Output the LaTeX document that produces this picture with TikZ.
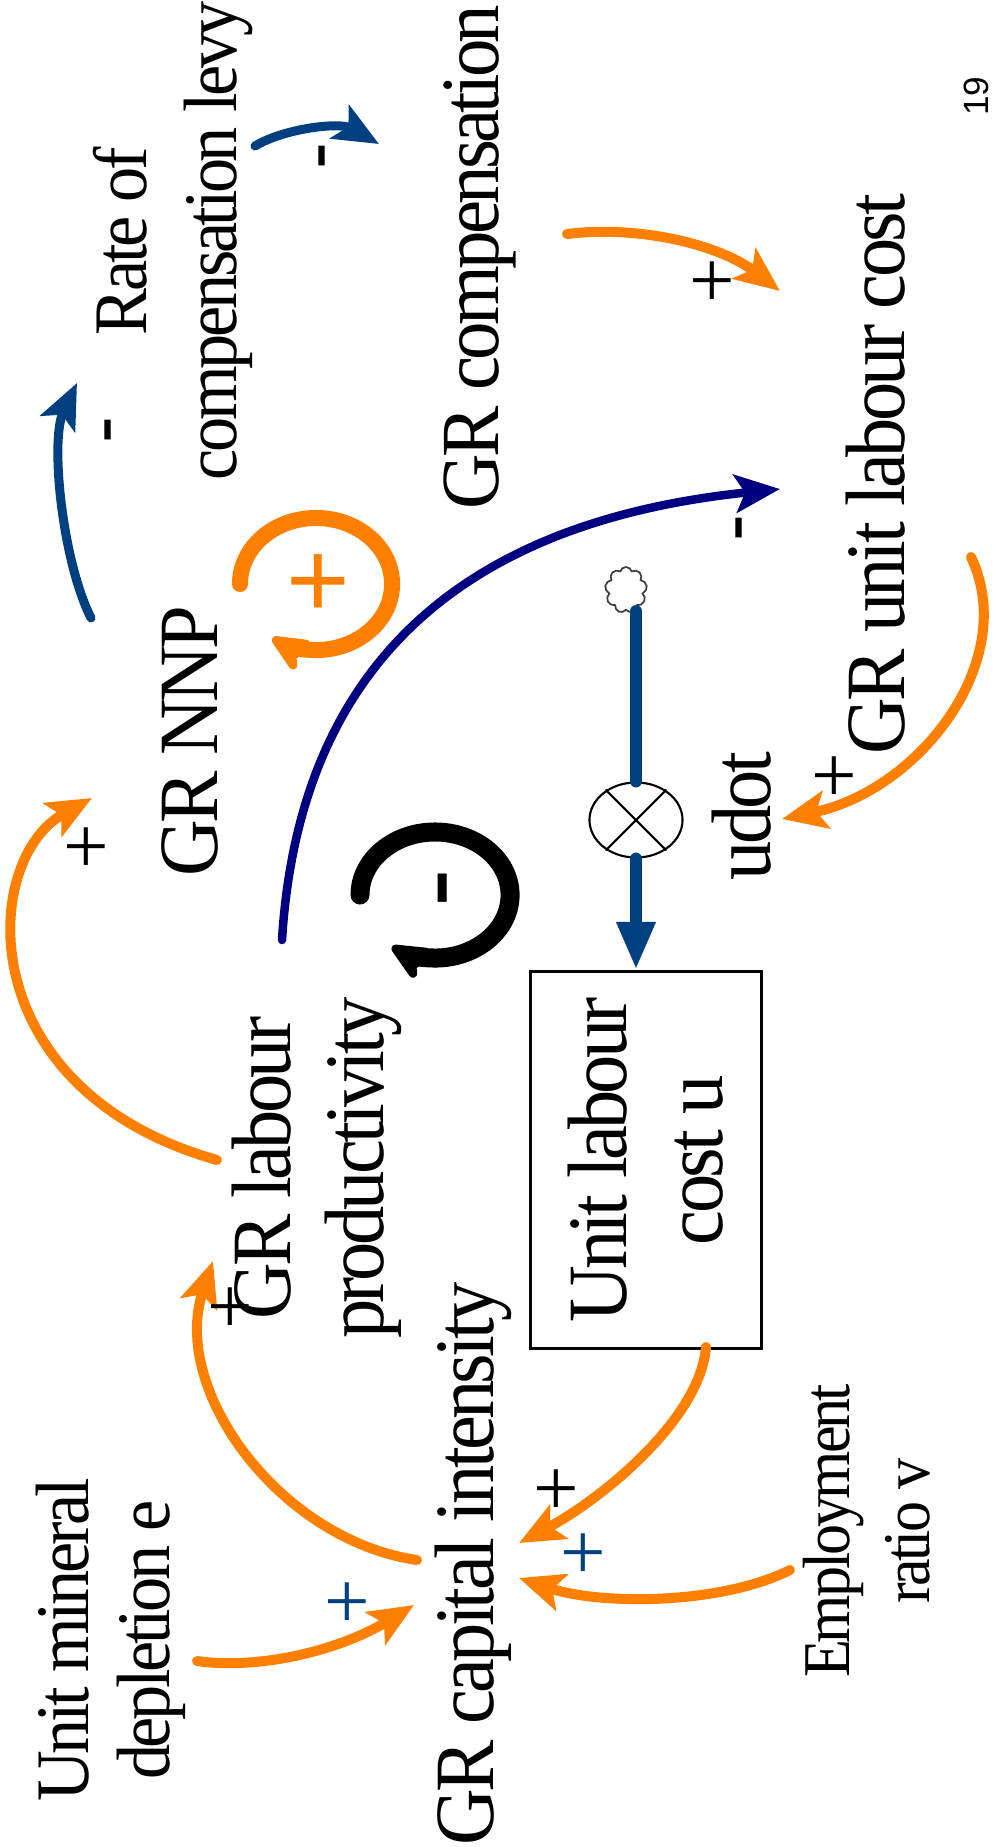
\documentclass[tikz,border=0pt]{standalone}
\usepackage{fontspec}
\setmainfont{Liberation Serif}[FakeStretch=0.93, LetterSpace=-4.5]
\newfontfamily\signfont{Liberation Sans}
\newfontfamily\plusfont{Liberation Serif}
\usetikzlibrary{arrows.meta,calc,shapes.geometric,shapes.symbols}

\definecolor{cldorange}{RGB}{255,128,0}
\definecolor{cldblue}{RGB}{0,64,128}
\definecolor{cldnavy}{RGB}{0,0,128}

\begin{document}
\begin{tikzpicture}[x=0.01cm, y=-0.01cm,
  >={Stealth[length=0.45cm, width=0.38cm, inset=0.1cm]},
  line cap=round,
  var/.style={rotate=90, align=center, inner sep=0pt},
  bigvar/.style={var, font=\fontsize{24}{26.4}\selectfont},
  midvar/.style={var, font=\fontsize{21.5}{23}\selectfont},
  smallvar/.style={var, font=\fontsize{19}{22.8}\selectfont},
  orangelink/.style={->, draw=cldorange, line width=0.1cm},
  bluelink/.style={->, draw=cldblue, line width=0.09cm},
  navylink/.style={->, draw=cldnavy, line width=0.085cm},
  plussign/.style={inner sep=0pt, font=\plusfont\fontsize{23}{23}\selectfont},
  minussign/.style={rotate=90, inner sep=0pt, font=\signfont\fontsize{23}{23}\selectfont},
  pipe/.style={draw=cldblue, line width=0.12cm}]

  \useasboundingbox (0,0) rectangle (999,1847);

  % variables (the whole sheet is turned on its side)
  \node[bigvar] (grnnp)  at (190,741)  {GR NNP};
  \node[midvar, font=\fontsize{21.5}{25.5}\selectfont] (rate) at (173,241) {Rate of\\compensation levy};
  \node[bigvar, font=\fontsize{23.5}{26}\selectfont] (grcomp) at (480,257)  {GR compensation};
  \node[bigvar] (grulc)  at (876,474)  {GR unit labour cost};
  \node[bigvar] (grlab)  at (317,1168) {GR labour\\productivity};
  \node[bigvar] (grcap)  at (473,1564) {GR capital intensity};
  \node[midvar] (unitmin) at (111,1640) {Unit mineral\\depletion e};
  \node[smallvar] (employ) at (867,1531) {Employment\\ratio v};
  \node[bigvar] (udot)   at (742,816)  {udot};

  % stock
  \node[bigvar, font=\fontsize{24}{27.3}\selectfont, draw, line width=0.8pt,
        minimum width=3.77cm, minimum height=2.31cm] (ulc) at (646,1160) {Unit labour\\cost u};

  % flow into the stock
  \node[cloud, draw=black!75, line width=0.5pt, cloud puffs=9, aspect=0.9,
        minimum width=0.42cm, minimum height=0.46cm, inner sep=0pt] (source) at (626,590) {};
  \node[ellipse, draw, line width=0.6pt, minimum width=0.93cm, minimum height=0.75cm,
        inner sep=0pt] (valve) at (636,820) {};
  \draw[line width=0.6pt] (valve.45) -- (valve.-135) (valve.135) -- (valve.-45);
  \draw[pipe] (source.south -| valve) -- (valve.north);
  \draw[pipe, -{Triangle[length=0.48cm, width=0.36cm]}] (valve.south) -- (valve |- ulc.east);

  % causal links
  \draw[bluelink] ($(grnnp)+(-99,-123)$) .. controls (62,560) and (50,440) .. ($(rate)+(-96,142)$);
  \draw[bluelink] ($(rate)+(82,-95)$) .. controls (285,128) and (340,122) .. ($(grcomp)+(-101,-113)$);
  \draw[orangelink] ($(grcomp)+(87,-23)$) .. controls (640,225) and (720,245) .. ($(grulc)+(-96,-183)$);
  \draw[navylink] ($(grlab)+(-35,-228)$) .. controls (300,650) and (480,520) .. ($(grulc)+(-96,15)$);
  \draw[orangelink] ($(grlab)+(-100,-8)$) .. controls (-30,1090) and (-20,860) .. ($(grnnp)+(-98,57)$);
  \draw[orangelink] ($(grcap)+(-56,-4)$) .. controls (280,1540) and (170,1390) .. ($(grlab)+(-104,93)$);
  \draw[orangelink] ($(unitmin)+(86,21)$) .. controls (260,1670) and (340,1650) .. ($(grcap)+(-59,41)$);
  \draw[orangelink] ($(ulc)+(60,187)$) .. controls (700,1420) and (600,1500) .. ($(grcap)+(46,-21)$);
  \draw[orangelink] ($(employ)+(-77,39)$) .. controls (720,1605) and (600,1605) .. ($(grcap)+(46,14)$);
  \draw[orangelink] ($(grulc)+(95,83)$) .. controls (1020,660) and (920,790) .. ($(udot)+(40,3)$);

  % link polarities
  \node[minussign] (m-nnp)  at (117,430)  {-};
  \node[minussign] (m-rate) at (331,156)  {-};
  \node[minussign] (m-lab)  at (748,528)  {-};
  \node[plussign] (p-comp)  at (712,285)  {+};
  \node[plussign] (p-lab)   at (86,851)   {+};
  \node[plussign] (p-cap)   at (230,1311) {+};
  \node[plussign, cldblue] (p-min) at (347,1606) {+};
  \node[plussign] (p-ulc)   at (556,1493) {+};
  \node[plussign, cldblue] (p-emp) at (583,1557) {+};
  \node[plussign] (p-udot)  at (834,780)  {+};

  % loop markers
  \draw[cldorange, line width=0.16cm, -{Stealth[length=0.5cm, width=0.45cm, round]}]
    (240,584) arc[start angle=180, end angle=-125, x radius=0.76cm, y radius=0.66cm];
  \node[inner sep=0pt, text=cldorange, font=\signfont\fontsize{31}{31}\selectfont] (r-loop) at (318,586) {+};
  \draw[black, line width=0.19cm, -{Stealth[length=0.5cm, width=0.45cm, round]}]
    (360,895) arc[start angle=180, end angle=-125, x radius=0.75cm, y radius=0.63cm];
  \node[minussign, font=\signfont\fontsize{33}{33}\selectfont] (b-loop) at (456,888) {-};

  \node[rotate=90, inner sep=0pt, font=\signfont\fontsize{10}{11}\selectfont] (pagenum) at (976,96) {19};
\end{tikzpicture}
\end{document}
